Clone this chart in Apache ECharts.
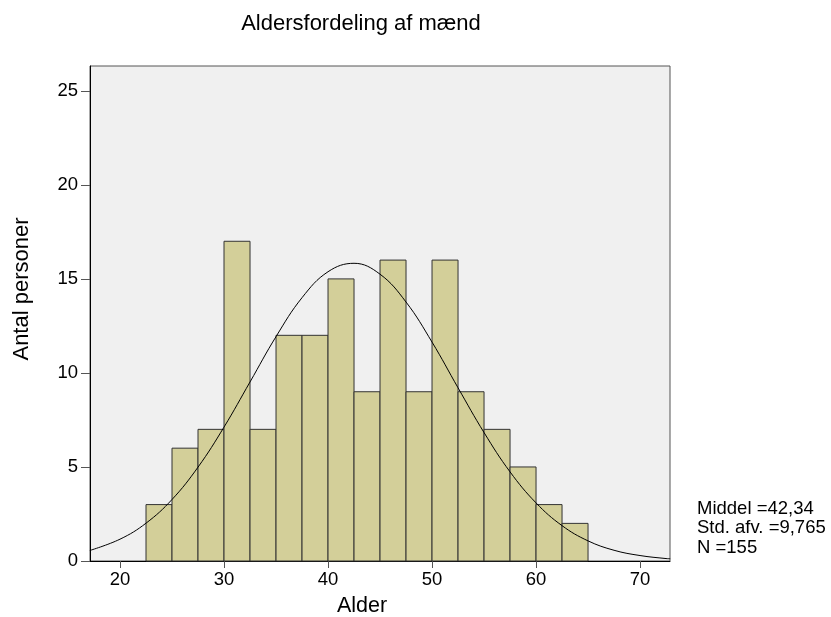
<!DOCTYPE html>
<html>
<head>
<meta charset="utf-8">
<script src="https://cdn.jsdelivr.net/npm/echarts@6/dist/echarts.min.js"></script>
<style>
html,body{margin:0;padding:0;background:#fff;}
#c{width:831px;height:617px;}
</style>
</head>
<body>
<div id="c"></div>
<script>
// Histogram bins (left edge of each 2.5-year bin) and counts
var binStarts = [22.5, 25, 27.5, 30, 32.5, 35, 37.5, 40, 42.5, 45, 47.5, 50, 52.5, 55, 57.5, 60, 62.5];
var counts    = [3, 6, 7, 17, 7, 12, 12, 15, 9, 16, 9, 16, 9, 7, 5, 3, 2];
var binWidth = 2.5;
// Normal curve
var curveX = [17.1, 20, 22.5, 25, 27.5, 30, 32.5, 35, 37.5, 40, 42.5, 45, 47.5, 50, 52.5, 55, 57.5, 60, 62.5, 65, 67.5, 70, 72.5, 72.9];
var curveY = [0.56, 1.16, 2.01, 3.27, 4.99, 7.12, 9.52, 11.93, 14.0, 15.38, 15.83, 15.25, 13.77, 11.64, 9.21, 6.83, 4.74, 3.09, 1.88, 1.07, 0.57, 0.29, 0.13, 0.12];
var xTicks = [20, 30, 40, 50, 60, 70];
var yTicks = [0, 5, 10, 15, 20, 25];
var titleText = 'Aldersfordeling af mænd';
var xName = 'Alder';
var yName = 'Antal personer';
var statsLines = ['Middel =42,34', 'Std. afv. =9,765', 'N =155'];

var FONT = '"Liberation Sans", Arial, sans-serif';
var barData = binStarts.map(function (s, i) { return [s, counts[i]]; });
var lineData = curveX.map(function (x, i) { return [x, curveY[i]]; });

var chart = echarts.init(document.getElementById('c'), null, {renderer: 'canvas'});
chart.setOption({
  animation: false,
  backgroundColor: '#ffffff',
  grid: {
    left: 90, right: 161, top: 66, bottom: 56,
    show: true, backgroundColor: '#f0f0f0', borderColor: '#555', borderWidth: 1
  },
  xAxis: {
    type: 'value', min: 17.115, max: 72.88,
    axisLine: {show: true, onZero: false, lineStyle: {color: '#000', width: 1}},
    axisTick: {show: true, length: 7, customValues: xTicks, lineStyle: {color: '#555'}},
    axisLabel: {customValues: xTicks, color: '#000', fontSize: 18.5, fontFamily: FONT, margin: 9},
    splitLine: {show: false}
  },
  yAxis: {
    type: 'value', min: 0, max: 26.32,
    axisLine: {show: true, lineStyle: {color: '#000', width: 1}},
    axisTick: {show: true, length: 9, customValues: yTicks, lineStyle: {color: '#555'}},
    axisLabel: {customValues: yTicks, color: '#000', fontSize: 18.5, fontFamily: FONT, margin: 12},
    splitLine: {show: false}
  },
  series: [
    {
      type: 'custom',
      data: barData,
      renderItem: function (params, api) {
        var s = api.value(0), v = api.value(1);
        var p1 = api.coord([s, v]);
        var p2 = api.coord([s + binWidth, 0]);
        return {
          type: 'rect',
          shape: {x: p1[0], y: p1[1], width: p2[0] - p1[0], height: p2[1] - p1[1]},
          style: {fill: '#d3cf99', stroke: '#333', lineWidth: 1}
        };
      },
      z: 2
    },
    {
      type: 'line',
      data: lineData,
      smooth: 0.4,
      showSymbol: false,
      symbol: 'none',
      lineStyle: {color: '#000', width: 1},
      clip: true,
      z: 3
    }
  ],
  graphic: [
    {type: 'text', style: {text: titleText, x: 361, y: 24, fontSize: 22, fontFamily: FONT, fill: '#000', align: 'center', verticalAlign: 'middle'}},
    {type: 'text', style: {text: xName, x: 362, y: 606, fontSize: 21.5, fontFamily: FONT, fill: '#000', align: 'center', verticalAlign: 'middle'}},
    {type: 'text', rotation: Math.PI / 2, x: 22, y: 289, style: {text: yName, x: 0, y: 0, fontSize: 22, fontFamily: FONT, fill: '#000', align: 'center', verticalAlign: 'middle'}},
    {type: 'text', style: {text: statsLines.join('\n'), x: 697, y: 499, fontSize: 18.5, lineHeight: 19.5, fontFamily: FONT, fill: '#000', align: 'left', verticalAlign: 'top'}}
  ]
});
</script>
</body>
</html>
